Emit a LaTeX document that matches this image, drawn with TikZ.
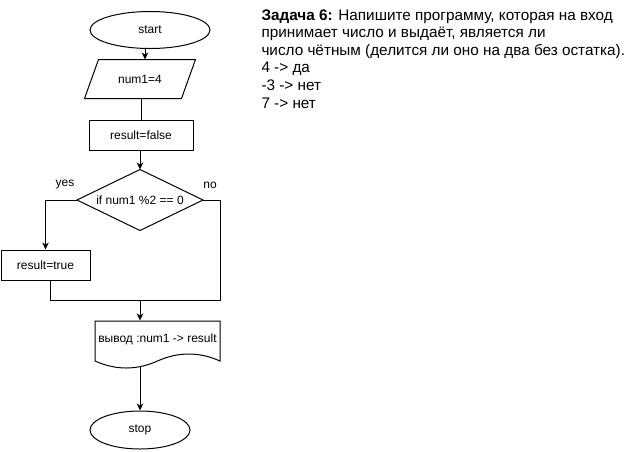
\documentclass[tikz,border=0pt]{standalone}
\usepackage{fontspec}
\setmainfont{Liberation Sans}
\usetikzlibrary{arrows.meta,shapes.geometric}
\begin{document}
\begin{tikzpicture}[x=1pt,y=-1pt,
  line width=1pt,
  arr/.style={-{Stealth[length=7pt,width=6.5pt,inset=2pt]}},
  fc/.style={font=\fontsize{12}{14}\selectfont, inner sep=0pt},
  term/.style={fc, ellipse, draw},
  proc/.style={fc, rectangle, draw},
  txt/.style={fc, rectangle, draw=none}
]
\useasboundingbox (0,0) rectangle (631,451);

% start
\node[term, minimum width=120pt, minimum height=37pt] (start) at (150,30) {start};

% input parallelogram
\node[txt, minimum width=110pt, minimum height=38pt] (in1) at (140,79) {num1=4};
\draw (in1.south west) -- ++(97,0) -- (in1.north east) -- ++(-97,0) -- cycle;

% result=false
\node[proc, minimum width=104pt, minimum height=30pt] (rfalse) at (141,135) {result=false};

% decision
\node[txt, minimum width=125pt, minimum height=60pt] (dec) at (140,200) {if num1 \%2 == 0};
\draw (dec.north) -- (dec.east) -- (dec.south) -- (dec.west) -- cycle;

\node[fc] (yes) at (65,185) {yes};
\node[fc] (no) at (210,185) {no};

% result=true
\node[proc, minimum width=89pt, minimum height=30pt] (rtrue) at (45.5,265) {result=true};

% output document
\node[txt, minimum width=125pt, minimum height=36pt] (doc) at (157.5,339) {вывод :num1 -> result};
\draw (95,321) -- (220,321) -- (220,361)
  .. controls (199.17,351.67) and (178.33,351.67) .. (157.5,361)
  .. controls (136.67,370.33) and (115.83,370.33) .. (95,361) -- cycle;
\coordinate (docb) at (140,366.6);

% stop
\node[term, minimum width=100pt, minimum height=38pt] (stop) at (140,430) {stop};

% connectors
\coordinate (m) at (140,300);
\draw[arr] ([xshift=-5pt]start.south) -- ([xshift=-5pt]start.south |- in1.north);
\draw (in1.south -| rfalse) -- (rfalse.north);
\draw[arr] (rfalse.south -| dec) -- (dec.north);
\draw[arr] (dec.west) -| (rtrue.north);
\draw (dec.east) -- ++(17,0) |- (m);
\draw ([xshift=4.5pt]rtrue.south) |- (m);
\draw[arr] (m) -- (m |- doc.north);
\draw[arr] (docb) -- (stop.north);

% task text
\node[anchor=north west, align=left, inner sep=0pt,
      font=\fontsize{15.3}{17.6}\selectfont] (task) at (261,9)
  {\textbf{Задача 6:} Напишите программу, которая на вход\\
   принимает число и выдаёт, является ли\\
   число чётным (делится ли оно на два без остатка).\\
   4 -> да\\
   -3 -> нет\\
   7 -> нет};
\end{tikzpicture}
\end{document}
